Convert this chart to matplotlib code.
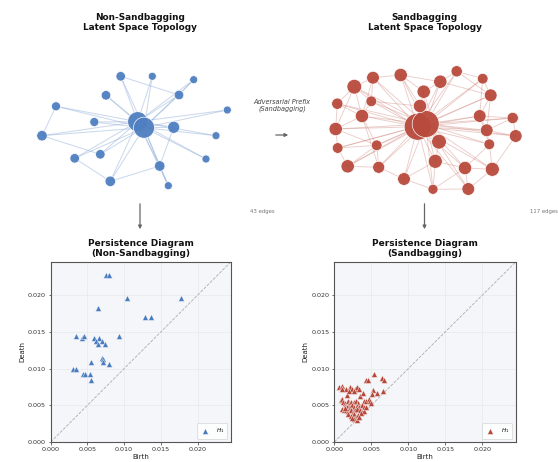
import numpy as np
import matplotlib
matplotlib.use("Agg")
import matplotlib.pyplot as plt

# ---------------------------------------------------------------------------
# Latent-space graphs (layout coordinates, node sizes, edge lists)
# ---------------------------------------------------------------------------
clean_x = [0.027, 0.090, -0.143, 0.173, 0.587, -0.290, 0.440, -0.790, 0.923,
           -0.407, -0.930, 0.387, 0.810, -0.347, -0.603, 0.710, 0.247, -0.247, 0.333]
clean_y = [0.093, 0.033, 0.547, 0.547, 0.513, 0.357, 0.360, 0.247, 0.210,
           0.090, -0.047, 0.037, -0.047, -0.233, -0.273, -0.280, -0.350, -0.503, -0.547]
clean_size = [207, 229, 47, 33, 33, 47, 47, 42, 33, 42, 57, 75, 33, 47, 47, 33, 57, 57, 33]
clean_hubs = [0, 1]
clean_extra_edges = [(2, 6), (4, 6), (7, 10), (10, 13), (14, 17), (17, 16), (16, 18), (16, 11)]

sand_x = [-0.073, 0.007, -0.707, -0.520, -0.243, 0.153, 0.317, 0.577, -0.013, 0.657,
          -0.877, -0.537, -0.050, -0.630, 0.547, 0.877, -0.893, 0.617, 0.907, -0.873,
          -0.483, 0.140, 0.643, -0.773, -0.463, 0.103, 0.400, 0.673, -0.210, 0.080, 0.433]
sand_y = [0.033, 0.060, 0.433, 0.523, 0.550, 0.483, 0.587, 0.513, 0.383, 0.347,
          0.263, 0.287, 0.240, 0.140, 0.140, 0.120, 0.010, -0.003, -0.060, -0.180,
          -0.153, -0.117, -0.143, -0.363, -0.373, -0.313, -0.380, -0.393, -0.490, -0.593, -0.590]
sand_size = [378, 378, 112, 84, 92, 92, 66, 59, 92, 84,
             66, 59, 92, 92, 84, 66, 92, 84, 84, 59,
             59, 112, 59, 92, 75, 102, 92, 102, 84, 52, 84]
sand_hubs = [0, 1]
sand_extra_edges = [(2, 3), (2, 10), (2, 11), (2, 13), (3, 4), (3, 11), (4, 8), (4, 5),
                    (5, 6), (5, 8), (6, 7), (6, 9), (7, 9), (5, 9), (8, 12), (9, 14),
                    (10, 13), (10, 16), (11, 13), (13, 16), (14, 15), (14, 17), (15, 18),
                    (17, 18), (17, 22), (14, 22), (15, 17), (16, 19), (16, 20), (19, 23),
                    (19, 20), (20, 24), (23, 24), (24, 28), (20, 13), (28, 29), (29, 30),
                    (26, 30), (26, 27), (27, 22), (22, 26), (21, 25), (25, 29), (25, 26),
                    (21, 12), (12, 4), (28, 25), (29, 26), (30, 27), (11, 12), (8, 21),
                    (2, 16), (3, 13), (23, 20), (24, 13), (7, 14), (9, 17), (27, 18)]

# ---------------------------------------------------------------------------
# H1 persistence pairs (birth, death)
# ---------------------------------------------------------------------------
clean_birth = [0.00749, 0.00794, 0.01043, 0.01778, 0.00644, 0.01279, 0.01370, 0.00340,
               0.00426, 0.00454, 0.00594, 0.00662, 0.00612, 0.00694, 0.00648, 0.00735,
               0.00925, 0.00703, 0.00717, 0.00544, 0.00717, 0.00790, 0.00308, 0.00340,
               0.00440, 0.00467, 0.00535, 0.00553]
clean_death = [0.02267, 0.02267, 0.01959, 0.01959, 0.01827, 0.01704, 0.01704, 0.01441,
               0.01422, 0.01440, 0.01422, 0.01422, 0.01381, 0.01381, 0.01340, 0.01340,
               0.01436, 0.01141, 0.01127, 0.01086, 0.01086, 0.01063, 0.00991, 0.00991,
               0.00931, 0.00931, 0.00931, 0.00841]

sand_birth = [0.00541, 0.00427, 0.00455, 0.00645, 0.00668, 0.00664, 0.00523, 0.00509,
              0.00577, 0.00068, 0.00100, 0.00164, 0.00209, 0.00245, 0.00282, 0.00300,
              0.00177, 0.00350, 0.00382, 0.00086, 0.00109, 0.00395, 0.00427, 0.00464,
              0.00486, 0.00500, 0.00120, 0.00150, 0.00180, 0.00200, 0.00230, 0.00260,
              0.00290, 0.00320, 0.00140, 0.00170, 0.00210, 0.00240, 0.00270, 0.00300,
              0.00340, 0.00370, 0.00400, 0.00110, 0.00130, 0.00160, 0.00190, 0.00220,
              0.00250, 0.00280, 0.00310, 0.00350, 0.00380, 0.00405, 0.00190, 0.00230,
              0.00260, 0.00290, 0.00320, 0.00360, 0.00270, 0.00300, 0.00330, 0.00240,
              0.00150, 0.00200, 0.00330, 0.00430, 0.00100, 0.00260]
sand_death = [0.00932, 0.00850, 0.00850, 0.00877, 0.00845, 0.00700, 0.00709, 0.00655,
              0.00664, 0.00745, 0.00768, 0.00727, 0.00745, 0.00718, 0.00727, 0.00755,
              0.00640, 0.00627, 0.00664, 0.00573, 0.00582, 0.00564, 0.00564, 0.00582,
              0.00564, 0.00536, 0.00550, 0.00530, 0.00560, 0.00520, 0.00550, 0.00540,
              0.00560, 0.00530, 0.00490, 0.00470, 0.00480, 0.00500, 0.00470, 0.00490,
              0.00480, 0.00500, 0.00470, 0.00450, 0.00430, 0.00440, 0.00420, 0.00440,
              0.00410, 0.00430, 0.00450, 0.00430, 0.00410, 0.00425, 0.00380, 0.00360,
              0.00380, 0.00340, 0.00370, 0.00390, 0.00310, 0.00295, 0.00335, 0.00330,
              0.00460, 0.00700, 0.00720, 0.00480, 0.00720, 0.00700]

clean_node = "#4f7fc0"
sand_node = "#b84a3c"
clean_edge = "#8eabd8"
sand_edge = "#cc8279"

W, H = 558, 462
fig = plt.figure(figsize=(W / 100, H / 100), dpi=100)


def build_edges(n, hubs, extra):
    edges = [(hubs[0], hubs[1])]
    for i in range(n):
        if i in hubs:
            continue
        for h in hubs:
            edges.append((h, i))
    edges += list(extra)
    return edges


def draw_graph(rect, xs, ys, sizes, edges, node_col, edge_col, xlim, ylim, lw, alpha):
    ax = fig.add_axes(rect)
    ax.set_xlim(*xlim)
    ax.set_ylim(*ylim)
    ax.axis("off")
    for a, b in edges:
        ax.plot([xs[a], xs[b]], [ys[a], ys[b]], color=edge_col, lw=lw,
                alpha=alpha, zorder=1, solid_capstyle="round")
    ax.scatter(xs, ys, s=sizes, c=node_col, edgecolors="white",
               linewidths=0.5, alpha=0.95, zorder=2)
    return ax


clean_edges = build_edges(len(clean_x), clean_hubs, clean_extra_edges)
sand_edges = build_edges(len(sand_x), sand_hubs, sand_extra_edges)

draw_graph([20 / W, 1 - 210 / H, 240 / W, 160 / H], clean_x, clean_y, clean_size,
           clean_edges, clean_node, clean_edge, (-1.15, 1.25), (-0.79, 0.81), 0.75, 0.45)
draw_graph([305 / W, 1 - 210 / H, 240 / W, 160 / H], sand_x, sand_y, sand_size,
           sand_edges, sand_node, sand_edge, (-1.20, 1.20), (-0.80, 0.80), 0.65, 0.4)

title_kw = dict(ha="center", va="center", fontsize=6.4, fontweight="bold",
                color="#111111", linespacing=1.15)
fig.text(140 / W, 1 - 22.5 / H, "Non-Sandbagging\nLatent Space Topology", **title_kw)
fig.text(424.5 / W, 1 - 22.5 / H, "Sandbagging\nLatent Space Topology", **title_kw)

fig.text(250 / W, 1 - 211 / H, f"{len(clean_edges)} edges", fontsize=3.9,
         color="#777777", ha="left", va="center")
fig.text(530.5 / W, 1 - 211 / H, f"{len(sand_edges)} edges", fontsize=3.9,
         color="#777777", ha="left", va="center")

fig.text(282 / W, 1 - 106 / H, "Adversarial Prefix\n(Sandbagging)", fontsize=4.7,
         style="italic", color="#444444", ha="center", va="center", linespacing=1.1)

arrow_kw = dict(arrowstyle="-|>", color="#666666", lw=0.9, mutation_scale=5)
fig.add_artist(matplotlib.patches.FancyArrowPatch(
    (273 / W, 1 - 135 / H), (291 / W, 1 - 135 / H), transform=fig.transFigure, **arrow_kw))
fig.add_artist(matplotlib.patches.FancyArrowPatch(
    (140 / W, 1 - 201 / H), (140 / W, 1 - 232 / H), transform=fig.transFigure, **arrow_kw))
fig.add_artist(matplotlib.patches.FancyArrowPatch(
    (424.5 / W, 1 - 201 / H), (424.5 / W, 1 - 232 / H), transform=fig.transFigure, **arrow_kw))

lim = 0.0245
ticks = [0.0, 0.005, 0.010, 0.015, 0.020]


def draw_diagram(rect, births, deaths, color, title):
    ax = fig.add_axes(rect)
    ax.set_facecolor("#f4f6f9")
    ax.plot([0, lim], [0, lim], ls="--", color="#999999", lw=0.6, alpha=0.8, zorder=1)
    ax.scatter(births, deaths, marker="^", s=18, c=color, edgecolors="white",
               linewidths=0.3, zorder=3, label=r"$H_1$")
    ax.set_xlim(0, lim)
    ax.set_ylim(0, lim)
    ax.set_xticks(ticks)
    ax.set_yticks(ticks)
    ax.set_xticklabels([f"{t:.3f}" for t in ticks])
    ax.set_yticklabels([f"{t:.3f}" for t in ticks])
    ax.tick_params(labelsize=4.6, length=1.8, width=0.5, pad=1.5, colors="#333333")
    ax.grid(True, color="#e3e6ea", lw=0.4, zorder=0)
    ax.set_axisbelow(True)
    for sp in ax.spines.values():
        sp.set_color("#555555")
        sp.set_linewidth(0.8)
    ax.set_xlabel("Birth", fontsize=5, labelpad=1.5, color="#222222")
    ax.set_ylabel("Death", fontsize=5, labelpad=2, color="#222222")
    ax.set_title(title, fontsize=6.5, fontweight="bold", pad=4, linespacing=1.15,
                 color="#111111")
    leg = ax.legend(loc="lower right", fontsize=4, frameon=True, borderpad=0.6,
                    handletextpad=1.2, handlelength=1.5, borderaxespad=0.6)
    leg.get_frame().set_edgecolor("#cccccc")
    leg.get_frame().set_linewidth(0.5)
    return ax


draw_diagram([50.7 / W, 1 - 442 / H, 180 / W, 180 / H], clean_birth, clean_death,
             "#4a7bbf", "Persistence Diagram\n(Non-Sandbagging)")
draw_diagram([334.3 / W, 1 - 442 / H, 181.4 / W, 180 / H], sand_birth, sand_death,
             "#b5473b", "Persistence Diagram\n(Sandbagging)")

fig.savefig("out.png", dpi=100)
